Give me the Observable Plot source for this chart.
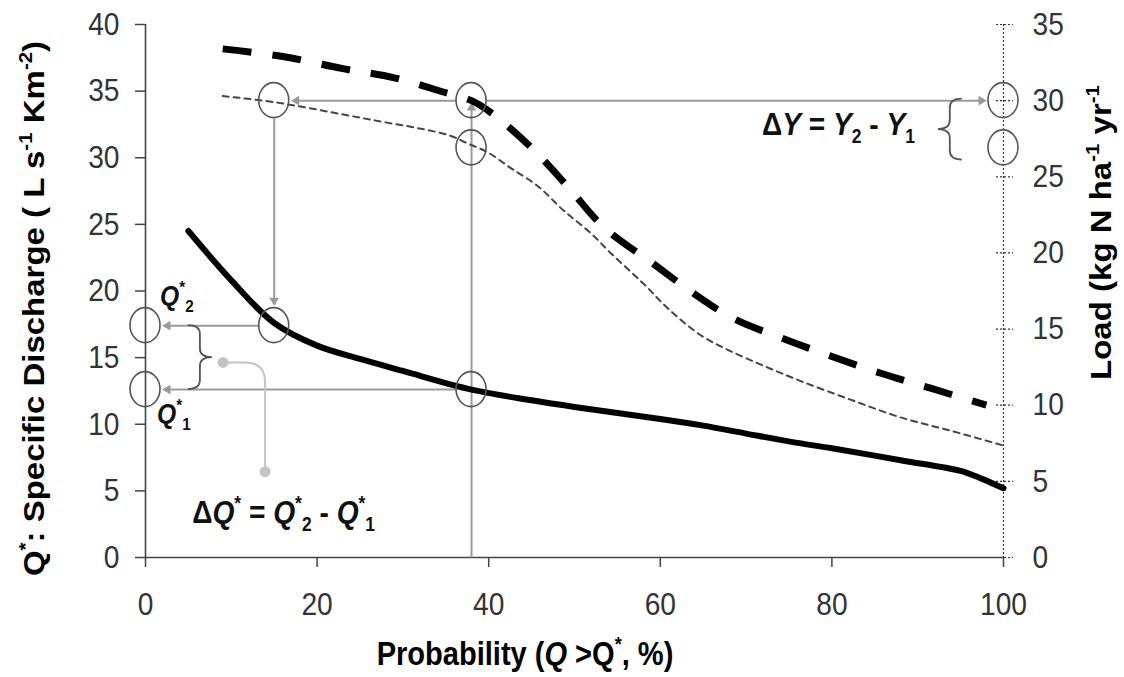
<!DOCTYPE html>
<html>
<head>
<meta charset="utf-8">
<script src="https://cdn.jsdelivr.net/npm/d3@7"></script>
<script src="https://cdn.jsdelivr.net/npm/@observablehq/plot@0.6"></script>
<style>
  html, body { margin: 0; padding: 0; background: #fff; }
  #chart { width: 1124px; height: 677px; }
</style>
</head>
<body>
<div id="chart"></div>
<script>
// ---------------- Data ----------------
const probTicks = [0, 20, 40, 60, 80, 100];
const qTicks = [0, 5, 10, 15, 20, 25, 30, 35, 40];
const loadTicks = [0, 5, 10, 15, 20, 25, 30, 35];

// Flow duration curve: specific discharge Q* (left axis)
const dischargeProb = [5, 10, 15, 20, 25, 30, 38, 45, 50, 60, 65, 70, 76, 80, 88, 95, 97.5, 100];
const dischargeQ    = [24.5, 20.8, 17.6, 15.9, 14.9, 14.0, 12.6, 11.8, 11.3, 10.4, 9.9, 9.3, 8.6, 8.2, 7.3, 6.5, 5.9, 5.2];

// Load curve, upper scenario (thick dashed, right axis)
const loadHighProb = [9, 16, 23, 29, 34.5, 38, 40.3, 45, 49.3, 53.4, 59.4, 64, 68.5, 74.2, 80, 85.7, 91.6, 98];
const loadHigh     = [33.4, 32.9, 32.1, 31.5, 30.6, 30.0, 29.2, 26.9, 24.3, 21.7, 19.2, 17.3, 15.7, 14.4, 13.2, 12.1, 11.1, 10.0];

// Load curve, lower scenario (thin dashed, right axis)
const loadLowProb = [9, 15, 23.9, 27.7, 31.7, 35.5, 37.5, 39.9, 42.5, 45.7, 48.7, 51.9, 54.2, 58, 61, 64.7, 68, 72, 76.3, 82, 88, 94, 100];
const loadLow     = [30.3, 29.9, 29.0, 28.6, 28.2, 27.7, 27.2, 26.6, 25.6, 24.4, 22.8, 21.3, 20.0, 18.0, 16.3, 14.6, 13.6, 12.6, 11.6, 10.4, 9.2, 8.3, 7.35];

// Worked example values
const probSelected = 38;   // exceedance probability of interest
const probMatch = 15;      // probability where the lower curve reaches Y2
const loadY2 = 30.0, loadY1 = 26.9;   // kg N / ha / yr
const qStar2 = 17.4, qStar1 = 12.6;   // L / s / km2

// right axis (0-35) is drawn against the left scale (0-40)
const k = 40 / 35;

// --------------- Tables for the marks ---------------
const dischargeData = dischargeProb.map((p, i) => ({p, q: dischargeQ[i]}));
const highData = loadHighProb.map((p, i) => ({p, q: loadHigh[i] * k}));
const lowData = loadLowProb.map((p, i) => ({p, q: loadLow[i] * k}));

const circles = [
  {p: probMatch, q: loadY2 * k},
  {p: probSelected, q: loadY2 * k},
  {p: probSelected, q: loadY1 * k},
  {p: 100, q: loadY2 * k},
  {p: 100, q: loadY1 * k},
  {p: probMatch, q: qStar2},
  {p: 0, q: qStar2},
  {p: 0, q: qStar1},
  {p: probSelected, q: qStar1}
];

const arrowsRight = [{x1: probSelected, y1: loadY2 * k, x2: 100, y2: loadY2 * k}];
const arrowsLeft = [
  {x1: probSelected, y1: loadY2 * k, x2: probMatch, y2: loadY2 * k},
  {x1: probMatch, y1: qStar2, x2: 0, y2: qStar2},
  {x1: probSelected, y1: qStar1, x2: 0, y2: qStar1}
];
const arrowsDown = [{x1: probMatch, y1: loadY2 * k, x2: probMatch, y2: qStar2}];
const arrowsUp = [{x1: probSelected, y1: 0, x2: probSelected, y2: loadY2 * k}];

const braces = [
  {p: 6.4, top: qStar2, bottom: qStar1, dir: 1},
  {p: 93.8, top: 30.1 * k, bottom: 26.1 * k, dir: -1}
];
const connector = {from: {p: 9.1, q: 14.6}, to: {p: 14.0, q: 6.4}};

const labels = [
  {p: 1.75, q: 18.9, size: 28, parts: [["Q", "i"], ["*", "sup"], ["2", "sub"]]},
  {p: 1.4, q: 10.05, size: 28, parts: [["Q", "i"], ["*", "sup"], ["1", "sub"]]},
  {p: 5.5, q: 2.55, size: 32, parts: [["Δ"], ["Q", "i"], ["*", "sup"], [" = "], ["Q", "i"], ["*", "sup"], ["2", "sub"], [" - "], ["Q", "i"], ["*", "sup"], ["1", "sub"]]},
  {p: 71.9, q: 31.67, size: 32, parts: [["Δ"], ["Y", "i"], [" = "], ["Y", "i"], ["2", "sub"], [" - "], ["Y", "i"], ["1", "sub"]]}
];

const xTitle = [["Probability ("], ["Q", "i"], [" >Q"], ["*", "sup"], [", %)"]];
const yTitle = [["Q"], ["*", "sup"], [": Specific Discharge ( L s"], ["-1", "sup"], [" Km"], ["-2", "sup"], [")"]];
const y2Title = [["Load (kg N ha"], ["-1", "sup"], [" yr"], ["-1", "sup"]];

// --------------- helpers ---------------
const FONT = "'Liberation Sans', Arial, Helvetica, sans-serif";
const GRAY = "#9a9a9a";
const SQ = 0.88; // horizontal squeeze of the lettering in the reference

function rich(text, parts, F) {
  let shift = 0;
  for (const [txt, kind] of parts) {
    const t = text.append("tspan").text(txt);
    let target = 0;
    if (kind === "sup") { t.attr("font-size", F * 0.62); target = -0.42 * F; }
    else if (kind === "sub") { t.attr("font-size", F * 0.62); target = 0.26 * F; }
    else if (kind === "i") { t.attr("font-style", "italic"); }
    if (target - shift !== 0) t.attr("dy", target - shift);
    shift = target;
  }
}

function arrowSet(data, insetStart, insetEnd, rotate, ux, uy) {
  const h = 7.2; // tip-to-centre distance of the triangle symbol
  return [
    Plot.arrow(data, {x1: "x1", y1: "y1", x2: "x2", y2: "y2", stroke: GRAY, strokeWidth: 2,
      headLength: 0, insetStart, insetEnd: insetEnd + 5, strokeLinecap: "butt"}),
    Plot.dot(data, {x: "x2", y: "y2", symbol: "triangle2", r: 4.6, fill: GRAY, stroke: "none",
      rotate, dx: -ux * (insetEnd + h), dy: -uy * (insetEnd + h)})
  ];
}

const ellipses = (index, scales) => {
  const g = d3.create("svg:g").attr("fill", "none").attr("stroke", "#555").attr("stroke-width", 1.6);
  for (const c of circles) {
    g.append("ellipse").attr("cx", scales.x(c.p)).attr("cy", scales.y(c.q)).attr("rx", 15).attr("ry", 17.5);
  }
  return g.node();
};

const braceMarks = (index, scales) => {
  const g = d3.create("svg:g").attr("fill", "none").attr("stroke", "#555").attr("stroke-width", 1.8);
  for (const b of braces) {
    const xs = scales.x(b.p), y1 = scales.y(b.top), y2 = scales.y(b.bottom);
    const w = 12, r = 9, ym = (y1 + y2) / 2, s = b.dir;
    const path = d3.path();
    path.moveTo(xs - s * w, y1);
    path.quadraticCurveTo(xs, y1, xs, y1 + r);
    path.lineTo(xs, ym - r);
    path.quadraticCurveTo(xs, ym, xs + s * w, ym);
    path.quadraticCurveTo(xs, ym, xs, ym + r);
    path.lineTo(xs, y2 - r);
    path.quadraticCurveTo(xs, y2, xs - s * w, y2);
    g.append("path").attr("d", path.toString());
  }
  return g.node();
};

const connectorMark = (index, scales) => {
  const g = d3.create("svg:g");
  const x0 = scales.x(connector.from.p), y0 = scales.y(connector.from.q);
  const x1 = scales.x(connector.to.p), y1 = scales.y(connector.to.q);
  const r = 20;
  const path = d3.path();
  path.moveTo(x0, y0);
  path.lineTo(x1 - r, y0);
  path.quadraticCurveTo(x1, y0, x1, y0 + r);
  path.lineTo(x1, y1);
  g.append("path").attr("d", path.toString()).attr("fill", "none").attr("stroke", "#c4c4c4").attr("stroke-width", 2);
  g.append("circle").attr("cx", x0).attr("cy", y0).attr("r", 5.5).attr("fill", "#c4c4c4");
  g.append("circle").attr("cx", x1).attr("cy", y1).attr("r", 5.5).attr("fill", "#c4c4c4");
  return g.node();
};

const labelMarks = (index, scales) => {
  const g = d3.create("svg:g").attr("fill", "#111").attr("font-weight", "bold")
    .attr("font-family", FONT).attr("text-anchor", "start");
  for (const l of labels) {
    const t = g.append("text")
      .attr("transform", `translate(${scales.x(l.p)},${scales.y(l.q)}) scale(${SQ},1)`)
      .attr("font-size", l.size);
    rich(t, l.parts, l.size);
  }
  return g.node();
};

const titleMarks = (index, scales, values, dims) => {
  const g = d3.create("svg:g").attr("fill", "#000").attr("font-weight", "bold")
    .attr("font-family", FONT).attr("text-anchor", "middle");
  const F = 33;
  const cx = (dims.marginLeft + dims.width - dims.marginRight) / 2 - 49;
  const tx = g.append("text")
    .attr("transform", `translate(${cx},${dims.height - 12}) scale(${SQ},1)`).attr("font-size", F);
  rich(tx, xTitle, F);
  const plotMid = (dims.marginTop + dims.height - dims.marginBottom) / 2;
  const ty = g.append("text")
    .attr("transform", `translate(44,${plotMid + 18}) scale(${SQ},1) rotate(-90)`).attr("font-size", F);
  rich(ty, yTitle, F);
  const ty2 = g.append("text")
    .attr("transform", `translate(${dims.width - 13},${plotMid - 58}) scale(${SQ},1) rotate(-90)`).attr("font-size", F);
  rich(ty2, y2Title, F);
  return g.node();
};

// --------------- chart ---------------
const chart = Plot.plot({
  width: 1124,
  height: 677,
  marginLeft: 145,
  marginRight: 121,
  marginTop: 24,
  marginBottom: 120,
  style: {fontFamily: FONT, background: "#fff", overflow: "visible"},
  x: {domain: [0, 100]},
  y: {domain: [0, 40]},
  marks: [
    // axes
    Plot.axisX(probTicks, {tickSize: 10, tickPadding: 25, fontSize: 32, fill: "#333", stroke: "#444", strokeWidth: 1.5, label: null}),
    Plot.axisY(qTicks, {anchor: "left", tickSize: 10, tickPadding: 16, fontSize: 32, fill: "#333", stroke: "#444", strokeWidth: 1.5, label: null}),
    Plot.axisY(loadTicks.map(v => v * k), {anchor: "right", tickSize: 17, dx: -8, fill: "none", stroke: "#333", strokeWidth: 1.2, strokeDasharray: "2,2", label: null}),
    Plot.axisY(loadTicks.map(v => v * k), {anchor: "right", tickSize: 0, tickPadding: 29, fontSize: 32, fill: "#333", label: null, tickFormat: d => String(Math.round(d / k))}),
    Plot.ruleX([0], {stroke: "#444", strokeWidth: 1.6}),
    Plot.ruleY([0], {stroke: "#444", strokeWidth: 1.6}),
    Plot.ruleX([100], {stroke: "#333", strokeWidth: 1.2, strokeDasharray: "2,2"}),

    // arrows
    ...arrowSet(arrowsRight, 15, 15, 90, 1, 0),
    ...arrowSet(arrowsLeft, 15, 15, 270, -1, 0),
    ...arrowSet(arrowsDown, 18, 18, 180, 0, 1),
    ...arrowSet(arrowsUp, 0, 0, 0, 0, -1),

    // curves
    Plot.line(lowData, {x: "p", y: "q", stroke: "#444", strokeWidth: 2, strokeDasharray: "6,5", curve: "catmull-rom"}),
    Plot.line(highData, {x: "p", y: "q", stroke: "#000", strokeWidth: 7, strokeDasharray: "29,21", strokeLinecap: "butt", curve: "catmull-rom"}),
    Plot.line(dischargeData, {x: "p", y: "q", stroke: "#000", strokeWidth: 6, curve: "catmull-rom"}),

    // annotations
    ellipses,
    braceMarks,
    connectorMark,
    labelMarks,
    titleMarks
  ]
});

// squeeze the tick labels horizontally, like the reference lettering
chart.querySelectorAll('[aria-label*="tick label"] text').forEach(t => {
  const tr = t.getAttribute("transform");
  if (tr) {
    t.setAttribute("transform", tr + ` scale(${SQ},1)`);
  } else {
    const x = +t.getAttribute("x") || 0;
    t.setAttribute("x", 0);
    t.setAttribute("transform", `translate(${x},0) scale(${SQ},1)`);
  }
});

document.getElementById("chart").appendChild(chart);
</script>
</body>
</html>
